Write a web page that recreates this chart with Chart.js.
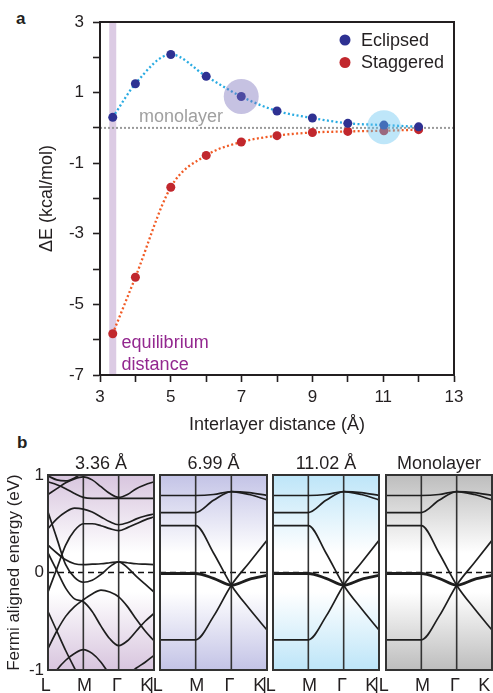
<!DOCTYPE html>
<html>
<head>
<meta charset="utf-8">
<script src="https://cdn.jsdelivr.net/npm/chart.js@4.4.0/dist/chart.umd.min.js"></script>
<style>
  body { margin: 0; background: #fff; }
  #wrap { position: relative; width: 493px; height: 693px; overflow: hidden; }
  canvas { position: absolute; }
  .tag { position: absolute; font: bold 17px 'Liberation Sans', Arial, sans-serif; color: #231f20; }
</style>
</head>
<body>
<div id="wrap">
  <div class="tag" style="left:16px;top:9px">a</div>
  <div class="tag" style="left:17px;top:433px">b</div>
  <canvas id="energyChart" width="493" height="440" style="left:0;top:0"></canvas>
  <canvas id="band0" width="164" height="253" style="left:0;top:440px"></canvas>
  <canvas id="band1" width="127" height="253" style="left:150px;top:440px"></canvas>
  <canvas id="band2" width="126" height="253" style="left:263px;top:440px"></canvas>
  <canvas id="band3" width="117" height="253" style="left:376px;top:440px"></canvas>
</div>
<script>
// ---- panel a: interaction energy vs interlayer distance
const distance = [3.36, 4, 5, 6, 6.99, 8, 9, 10, 11.02, 12];
const eclipsedDE = [0.30, 1.25, 2.08, 1.46, 0.89, 0.48, 0.28, 0.13, 0.08, 0.03];
const staggeredDE = [-5.83, -4.23, -1.68, -0.78, -0.40, -0.22, -0.13, -0.10, -0.08, -0.05];
const highlightX = [6.99, 11.02];
const highlightY = [0.89, 0.02];
const equilibriumX = 3.36;

// ---- panel b: band structures, energies sampled along L-M-Γ-K (k = 0..3)
const kLabels = ['L', 'M', 'Γ', 'K'];
const kLabelAt = [-0.06, 1.03, 1.95, 2.78];
const kSepAt = 2.93;
const panelTitles = ['3.36 Å', '6.99 Å', '11.02 Å', 'Monolayer'];

const kFine = [0, 0.25, 0.5, 0.75, 1, 1.25, 1.5, 1.75, 2, 2.25, 2.5, 2.75, 3];
const bandsNear = [
  [0.93, 0.90, 0.86, 0.81, 0.77, 0.76, 0.76, 0.76, 0.76, 0.76, 0.76, 0.76, 0.76],
  [0.80, 0.86, 0.92, 0.96, 0.98, 0.95, 0.88, 0.81, 0.77, 0.80, 0.86, 0.90, 0.93],
  [0.99, 0.95, 0.94, 0.97, 1.03, 1.08, 1.10, 1.10, 1.10, 1.10, 1.10, 1.10, 1.10],
  [0.45, 0.55, 0.62, 0.66, 0.65, 0.62, 0.57, 0.52, 0.49, 0.51, 0.55, 0.58, 0.60],
  [-0.20, 0.04, 0.28, 0.43, 0.50, 0.50, 0.48, 0.45, 0.43, 0.46, 0.50, 0.54, 0.57],
  [0.28, 0.20, 0.13, 0.09, 0.08, 0.085, 0.09, 0.10, 0.11, 0.10, 0.09, 0.085, 0.08],
  [0.62, 0.35, 0.08, -0.05, -0.10, -0.08, -0.02, 0.06, 0.11, 0.05, -0.04, -0.12, -0.20],
  [0.20, 0.02, -0.16, -0.27, -0.30, -0.40, -0.55, -0.68, -0.75, -0.70, -0.60, -0.50, -0.42],
  [-0.78, -0.60, -0.45, -0.35, -0.28, -0.22, -0.18, -0.20, -0.25, -0.35, -0.48, -0.60, -0.70],
  [-1.15, -1.00, -0.90, -0.83, -0.79, -0.83, -0.92, -1.05, -1.15, -1.20, -1.20, -1.20, -1.20],
  [-0.40, -0.60, -0.80, -0.98, -1.15, -1.20, -1.20, -1.20, -1.20, -1.20, -1.20, -1.20, -1.20],
  [-1.20, -1.20, -1.20, -1.20, -1.20, -1.20, -1.20, -1.20, -1.15, -1.05, -0.98, -0.92, -0.85]
];

const kCoarse = [0, 0.5, 1, 1.5, 2, 2.5, 3];
const bandsFar = [
  [0.79, 0.79, 0.79, 0.80, 0.83, 0.82, 0.79],
  [0.615, 0.615, 0.615, 0.74, 0.83, 0.80, 0.745],
  [0.48, 0.48, 0.48, 0.20, -0.13, -0.37, -0.59],
  [-0.01, -0.01, -0.01, -0.06, -0.13, -0.07, -0.03],
  [-0.69, -0.69, -0.69, -0.45, -0.13, 0.10, 0.33]
];
const bandsMono = bandsFar;

const panelColors = ['#d8c5de', '#c3c3e6', '#bde5f8', '#bdbdbd'];

const fontFamily = "'Liberation Sans', Arial, Helvetica, sans-serif";
Chart.defaults.font.family = fontFamily;
Chart.defaults.color = '#231f20';

const toPoints = (xs, ys) => xs.map((x, i) => ({ x: x, y: ys[i] }));

// box around the plot area
const frame = {
  id: 'frame',
  afterDatasetsDraw(chart, args, opts) {
    const { ctx, chartArea: a } = chart;
    ctx.save();
    ctx.strokeStyle = opts.color || '#231f20';
    ctx.lineWidth = opts.width || 2;
    ctx.strokeRect(a.left, a.top, a.right - a.left, a.bottom - a.top);
    ctx.restore();
  }
};

// texts and legend for panel a
const notes = {
  id: 'notes',
  afterDraw(chart) {
    const { ctx, chartArea: a, scales: { x, y } } = chart;
    ctx.save();
    ctx.font = '18px ' + fontFamily;
    ctx.textBaseline = 'alphabetic';
    ctx.fillStyle = '#a0a0a0';
    ctx.fillText('monolayer', x.getPixelForValue(4.1), y.getPixelForValue(0.17));
    ctx.fillStyle = '#93278f';
    ctx.fillText('equilibrium', x.getPixelForValue(3.61), y.getPixelForValue(-6.23));
    ctx.fillText('distance', x.getPixelForValue(3.61), y.getPixelForValue(-6.86));

    const items = [['Eclipsed', '#2e3192'], ['Staggered', '#c1272d']];
    items.forEach((it, i) => {
      const cy = a.top + 18 + i * 22.5;
      ctx.beginPath();
      ctx.arc(a.right - 109, cy, 5.5, 0, Math.PI * 2);
      ctx.fillStyle = it[1];
      ctx.fill();
      ctx.fillStyle = '#231f20';
      ctx.textBaseline = 'middle';
      ctx.fillText(it[0], a.right - 93, cy + 1);
    });
    ctx.restore();
  }
};

new Chart(document.getElementById('energyChart'), {
  type: 'scatter',
  data: {
    datasets: [
      {
        label: 'highlight 6.99',
        data: [{ x: highlightX[0], y: highlightY[0] }],
        pointRadius: 17.5, backgroundColor: 'rgba(120,110,185,0.42)', borderWidth: 0, order: 0
      },
      {
        label: 'highlight 11.02',
        data: [{ x: highlightX[1], y: highlightY[1] }],
        pointRadius: 17, backgroundColor: 'rgba(100,195,240,0.42)', borderWidth: 0, order: 0
      },
      {
        label: 'Eclipsed',
        data: toPoints(distance, eclipsedDE),
        pointRadius: 4.5, backgroundColor: '#2e3192', borderWidth: 0, order: 1
      },
      {
        label: 'Staggered',
        data: toPoints(distance, staggeredDE),
        pointRadius: 4.5, backgroundColor: '#c1272d', borderWidth: 0, order: 1
      },
      {
        label: 'Eclipsed fit',
        data: toPoints(distance, eclipsedDE),
        showLine: true, pointRadius: 0, borderColor: '#29abe2', borderWidth: 2.3,
        borderDash: [2, 2.4], cubicInterpolationMode: 'monotone', order: 2
      },
      {
        label: 'Staggered fit',
        data: toPoints(distance, staggeredDE),
        showLine: true, pointRadius: 0, borderColor: '#f15a24', borderWidth: 2.3,
        borderDash: [2, 2.4], cubicInterpolationMode: 'monotone', order: 2
      },
      {
        label: 'monolayer',
        data: [{ x: 3, y: 0 }, { x: 13, y: 0 }],
        showLine: true, pointRadius: 0, borderColor: '#9a9a9a', borderWidth: 2,
        borderDash: [2, 2], order: 3
      },
      {
        label: 'equilibrium',
        data: [{ x: equilibriumX, y: -7 }, { x: equilibriumX, y: 3 }],
        showLine: true, pointRadius: 0, borderColor: '#dccbe4', borderWidth: 7,
        borderCapStyle: 'butt', order: 4
      }
    ]
  },
  options: {
    responsive: false,
    animation: false,
    events: [],
    layout: { padding: { top: 22, right: 39, left: 32, bottom: 0 } },
    plugins: { legend: { display: false }, tooltip: { enabled: false }, frame: { width: 2 } },
    scales: {
      x: {
        type: 'linear', min: 3, max: 13,
        afterFit: s => { s.height = 65; },
        ticks: {
          stepSize: 1, autoSkip: false, maxRotation: 0, padding: 5,
          font: { size: 17 }, callback: v => (v % 2 ? v : '')
        },
        grid: { drawOnChartArea: false, tickLength: 7, tickColor: '#231f20', tickWidth: 1.6 },
        border: { color: '#231f20', width: 2 },
        title: { display: true, text: 'Interlayer distance (Å)', font: { size: 18 }, padding: { top: 0, bottom: 4 } }
      },
      y: {
        type: 'linear', min: -7, max: 3,
        afterFit: s => { s.width = 68; },
        ticks: {
          stepSize: 1, autoSkip: false, padding: 9,
          font: { size: 17 }, callback: v => (v % 2 ? v : '')
        },
        grid: { drawOnChartArea: false, tickLength: 7, tickColor: '#231f20', tickWidth: 1.6 },
        border: { color: '#231f20', width: 2 },
        title: { display: true, text: 'ΔE (kcal/mol)', font: { size: 18 }, padding: { top: 4, bottom: 0 } }
      }
    }
  },
  plugins: [frame, notes]
});

// ---- panel b
const panelBg = {
  id: 'panelBg',
  beforeDatasetsDraw(chart, args, opts) {
    const { ctx, chartArea: a } = chart;
    const g = ctx.createLinearGradient(0, a.top, 0, a.bottom);
    g.addColorStop(0, opts.color);
    g.addColorStop(0.4, '#ffffff');
    g.addColorStop(0.6, '#ffffff');
    g.addColorStop(1, opts.color);
    ctx.save();
    ctx.fillStyle = g;
    ctx.fillRect(a.left, a.top, a.right - a.left, a.bottom - a.top);
    ctx.restore();
  }
};

const panelText = {
  id: 'panelText',
  afterDraw(chart, args, opts) {
    const { ctx, chartArea: a, scales: { x } } = chart;
    ctx.save();
    ctx.font = '18px ' + fontFamily;
    ctx.fillStyle = '#231f20';
    ctx.textAlign = 'center';
    ctx.textBaseline = 'alphabetic';
    ctx.fillText(opts.title, (a.left + a.right) / 2, a.top - 6);
    kLabels.forEach((lab, i) => {
      ctx.fillText(lab, x.getPixelForValue(kLabelAt[i]), a.bottom + 21);
    });
    if (opts.sep) ctx.fillText('|', x.getPixelForValue(kSepAt), a.bottom + 20);
    ctx.restore();
  }
};

function makeBandChart(id, idx, bands, kSamples, padLeft, padRight) {
  const datasets = bands.map((vals, i) => ({
    label: 'band ' + i,
    data: toPoints(kSamples, vals),
    showLine: true, pointRadius: 0, borderColor: '#1e1e1e',
    borderWidth: (bands === bandsNear || i !== 3) ? 1.7 : 2.8,
    cubicInterpolationMode: 'monotone', clip: 0
  }));
  [1, 2].forEach(k => datasets.push({
    label: 'k' + k,
    data: [{ x: k, y: -1 }, { x: k, y: 1 }],
    showLine: true, pointRadius: 0, borderColor: '#333', borderWidth: 1.6
  }));
  datasets.push({
    label: 'Fermi',
    data: [{ x: 0, y: 0 }, { x: 3, y: 0 }],
    showLine: true, pointRadius: 0, borderColor: '#111', borderWidth: 1.6, borderDash: [6, 4]
  });

  const first = idx === 0;
  new Chart(document.getElementById(id), {
    type: 'scatter',
    data: { datasets },
    options: {
      responsive: false,
      animation: false,
      events: [],
      layout: { padding: { top: 35, bottom: 23, left: padLeft, right: padRight } },
      plugins: {
        legend: { display: false }, tooltip: { enabled: false },
        panelBg: { color: panelColors[idx] },
        panelText: { title: panelTitles[idx], sep: idx < 3 },
        frame: { color: '#333', width: 2 }
      },
      scales: {
        x: { type: 'linear', min: 0, max: 3, display: false },
        y: {
          type: 'linear', min: -1, max: 1, display: first,
          afterFit: s => { s.width = first ? 48 : 0; },
          ticks: { stepSize: 1, padding: 4, font: { size: 17 } },
          grid: { display: false, drawTicks: false },
          border: { display: false },
          title: { display: true, text: 'Fermi aligned energy (eV)', font: { size: 17 }, padding: { top: 4, bottom: 0 } }
        }
      }
    },
    plugins: [panelBg, frame, panelText]
  });
}

makeBandChart('band0', 0, bandsNear, kFine, 0, 10);
makeBandChart('band1', 1, bandsFar, kCoarse, 10, 10);
makeBandChart('band2', 2, bandsFar, kCoarse, 10, 10);
makeBandChart('band3', 3, bandsMono, kCoarse, 10, 1);
</script>
</body>
</html>
